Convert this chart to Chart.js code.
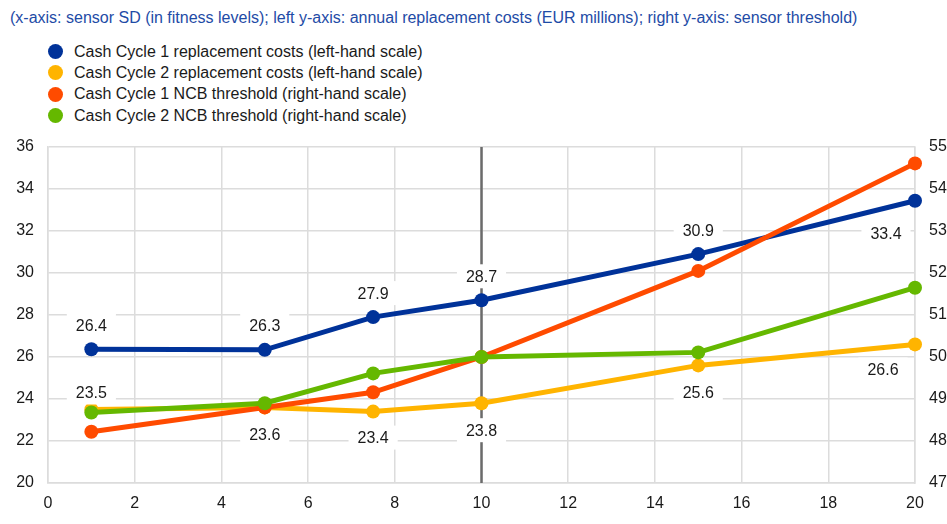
<!DOCTYPE html>
<html>
<head>
<meta charset="utf-8">
<script src="https://cdn.jsdelivr.net/npm/chart.js@4/dist/chart.umd.min.js"></script>
<style>
  html, body { margin: 0; padding: 0; background: #fff; }
  #wrap { position: relative; width: 947px; height: 524px; font-family: "Liberation Sans", Arial, sans-serif; }
  #title { position: absolute; left: 10px; top: 9px; font-size: 16px; color: #1e4ba6; white-space: nowrap; }
  #legend { position: absolute; left: 48px; top: 41px; }
  .li { height: 21.3px; display: flex; align-items: center; font-size: 16px; color: #1a1a1a; }
  .dot { width: 15px; height: 15px; border-radius: 50%; margin-right: 11px; }
  canvas { position: absolute; left: 0; top: 0; }
</style>
</head>
<body>
<div id="wrap">
  <div id="title">(x-axis: sensor SD (in fitness levels); left y-axis: annual replacement costs (EUR millions); right y-axis: sensor threshold)</div>
  <div id="legend"></div>
  <canvas id="c" width="947" height="524"></canvas>
</div>
<script>
// ---- data ----
const sensorSD = [1, 5, 7.5, 10, 15, 20];
const cc1Costs = [26.37, 26.34, 27.9, 28.7, 30.9, 33.44];
const cc2Costs = [23.5, 23.6, 23.4, 23.8, 25.6, 26.6];
const cc1Threshold = [48.22, 48.8, 49.16, 50.0, 52.05, 54.61];
const cc2Threshold = [48.68, 48.9, 49.61, 50.0, 50.11, 51.65];
const cc1Labels = ["26.4", "26.3", "27.9", "28.7", "30.9", "33.4"];
const cc2Labels = ["23.5", "23.6", "23.4", "23.8", "25.6", "26.6"];
const seriesNames = [
  "Cash Cycle 1 replacement costs (left-hand scale)",
  "Cash Cycle 2 replacement costs (left-hand scale)",
  "Cash Cycle 1 NCB threshold (right-hand scale)",
  "Cash Cycle 2 NCB threshold (right-hand scale)"
];
const markerX = 10;

const colors = ["#003299", "#FFB400", "#FF4B00", "#65B800"];
const pts = arr => arr.map((v, i) => ({ x: sensorSD[i], y: v }));

// label texts and offsets (dx, dy) relative to points, for labelled series
const labelTexts = { 0: cc1Labels, 1: cc2Labels };
const labelOffsets = {
  0: [[0,-24],[0,-24],[0,-24],[0,-24],[0,-24],[-29,33]],
  1: [[0,-17],[0,27],[0,26],[0,27],[0,27],[-32,25]]
};

const legend = document.getElementById('legend');
seriesNames.forEach((n, i) => {
  const d = document.createElement('div');
  d.className = 'li';
  d.innerHTML = '<span class="dot" style="background:' + colors[i] + '"></span><span></span>';
  d.lastChild.textContent = n;
  legend.appendChild(d);
});

const vlinePlugin = {
  id: 'vline',
  beforeDatasetsDraw(chart) {
    const { ctx, chartArea, scales } = chart;
    const x = scales.x.getPixelForValue(markerX);
    ctx.save();
    ctx.strokeStyle = '#6b6b6b';
    ctx.lineWidth = 2.5;
    ctx.beginPath();
    ctx.moveTo(x, chartArea.top);
    ctx.lineTo(x, chartArea.bottom);
    ctx.stroke();
    ctx.restore();
  }
};

const labelPlugin = {
  id: 'vlabels',
  afterDatasetsDraw(chart) {
    const { ctx } = chart;
    ctx.save();
    ctx.font = '16px "Liberation Sans", Arial, sans-serif';
    ctx.textAlign = 'center';
    ctx.textBaseline = 'middle';
    Object.keys(labelOffsets).forEach(k => {
      const di = +k;
      const meta = chart.getDatasetMeta(di);
      meta.data.forEach((el, i) => {
        const txt = labelTexts[di][i];
        const [dx, dy] = labelOffsets[di][i];
        const cx = el.x + dx, cy = el.y + dy;
        const w = ctx.measureText(txt).width + 18;
        ctx.fillStyle = '#fff';
        ctx.fillRect(cx - w / 2, cy - 12, w, 24);
        ctx.fillStyle = '#1a1a1a';
        ctx.fillText(txt, cx, cy + 1);
      });
    });
    ctx.restore();
  }
};

const mk = (i, arr, axis) => ({
  label: seriesNames[i],
  data: pts(arr),
  yAxisID: axis,
  borderColor: colors[i],
  backgroundColor: colors[i],
  borderWidth: 5,
  pointRadius: 7,
  pointHoverRadius: 7,
  pointBorderWidth: 0,
  tension: 0,
  clip: false,
  order: 4 - i
});

const tickFont = { family: '"Liberation Sans", Arial, sans-serif', size: 16 };

new Chart(document.getElementById('c'), {
  type: 'line',
  data: {
    datasets: [
      mk(0, cc1Costs, 'y'),
      mk(1, cc2Costs, 'y'),
      mk(2, cc1Threshold, 'y1'),
      mk(3, cc2Threshold, 'y1')
    ]
  },
  options: {
    responsive: false,
    animation: false,
    layout: { padding: { top: 147, left: 0, right: 0, bottom: 0 } },
    plugins: { legend: { display: false }, tooltip: { enabled: false } },
    scales: {
      x: {
        type: 'linear', min: 0, max: 20,
        afterFit(s) { s.height = 41; },
        ticks: { stepSize: 2, font: tickFont, color: '#1a1a1a', padding: 11 },
        grid: { color: '#dcdcdc', lineWidth: 1.5, drawTicks: false },
        border: { color: '#dcdcdc', width: 1.5 }
      },
      y: {
        position: 'left', min: 20, max: 36,
        afterFit(s) { s.width = 48; },
        ticks: { stepSize: 2, font: tickFont, color: '#1a1a1a', padding: 14 },
        grid: { color: '#dcdcdc', lineWidth: 1.5, drawTicks: false },
        border: { color: '#dcdcdc', width: 1.5 }
      },
      y1: {
        position: 'right', min: 47, max: 55,
        afterFit(s) { s.width = 32; },
        ticks: { stepSize: 1, font: tickFont, color: '#1a1a1a', padding: 14 },
        grid: { display: false, drawTicks: false },
        border: { color: '#dcdcdc', width: 1.5 }
      }
    }
  },
  plugins: [vlinePlugin, labelPlugin]
});
</script>
</body>
</html>
